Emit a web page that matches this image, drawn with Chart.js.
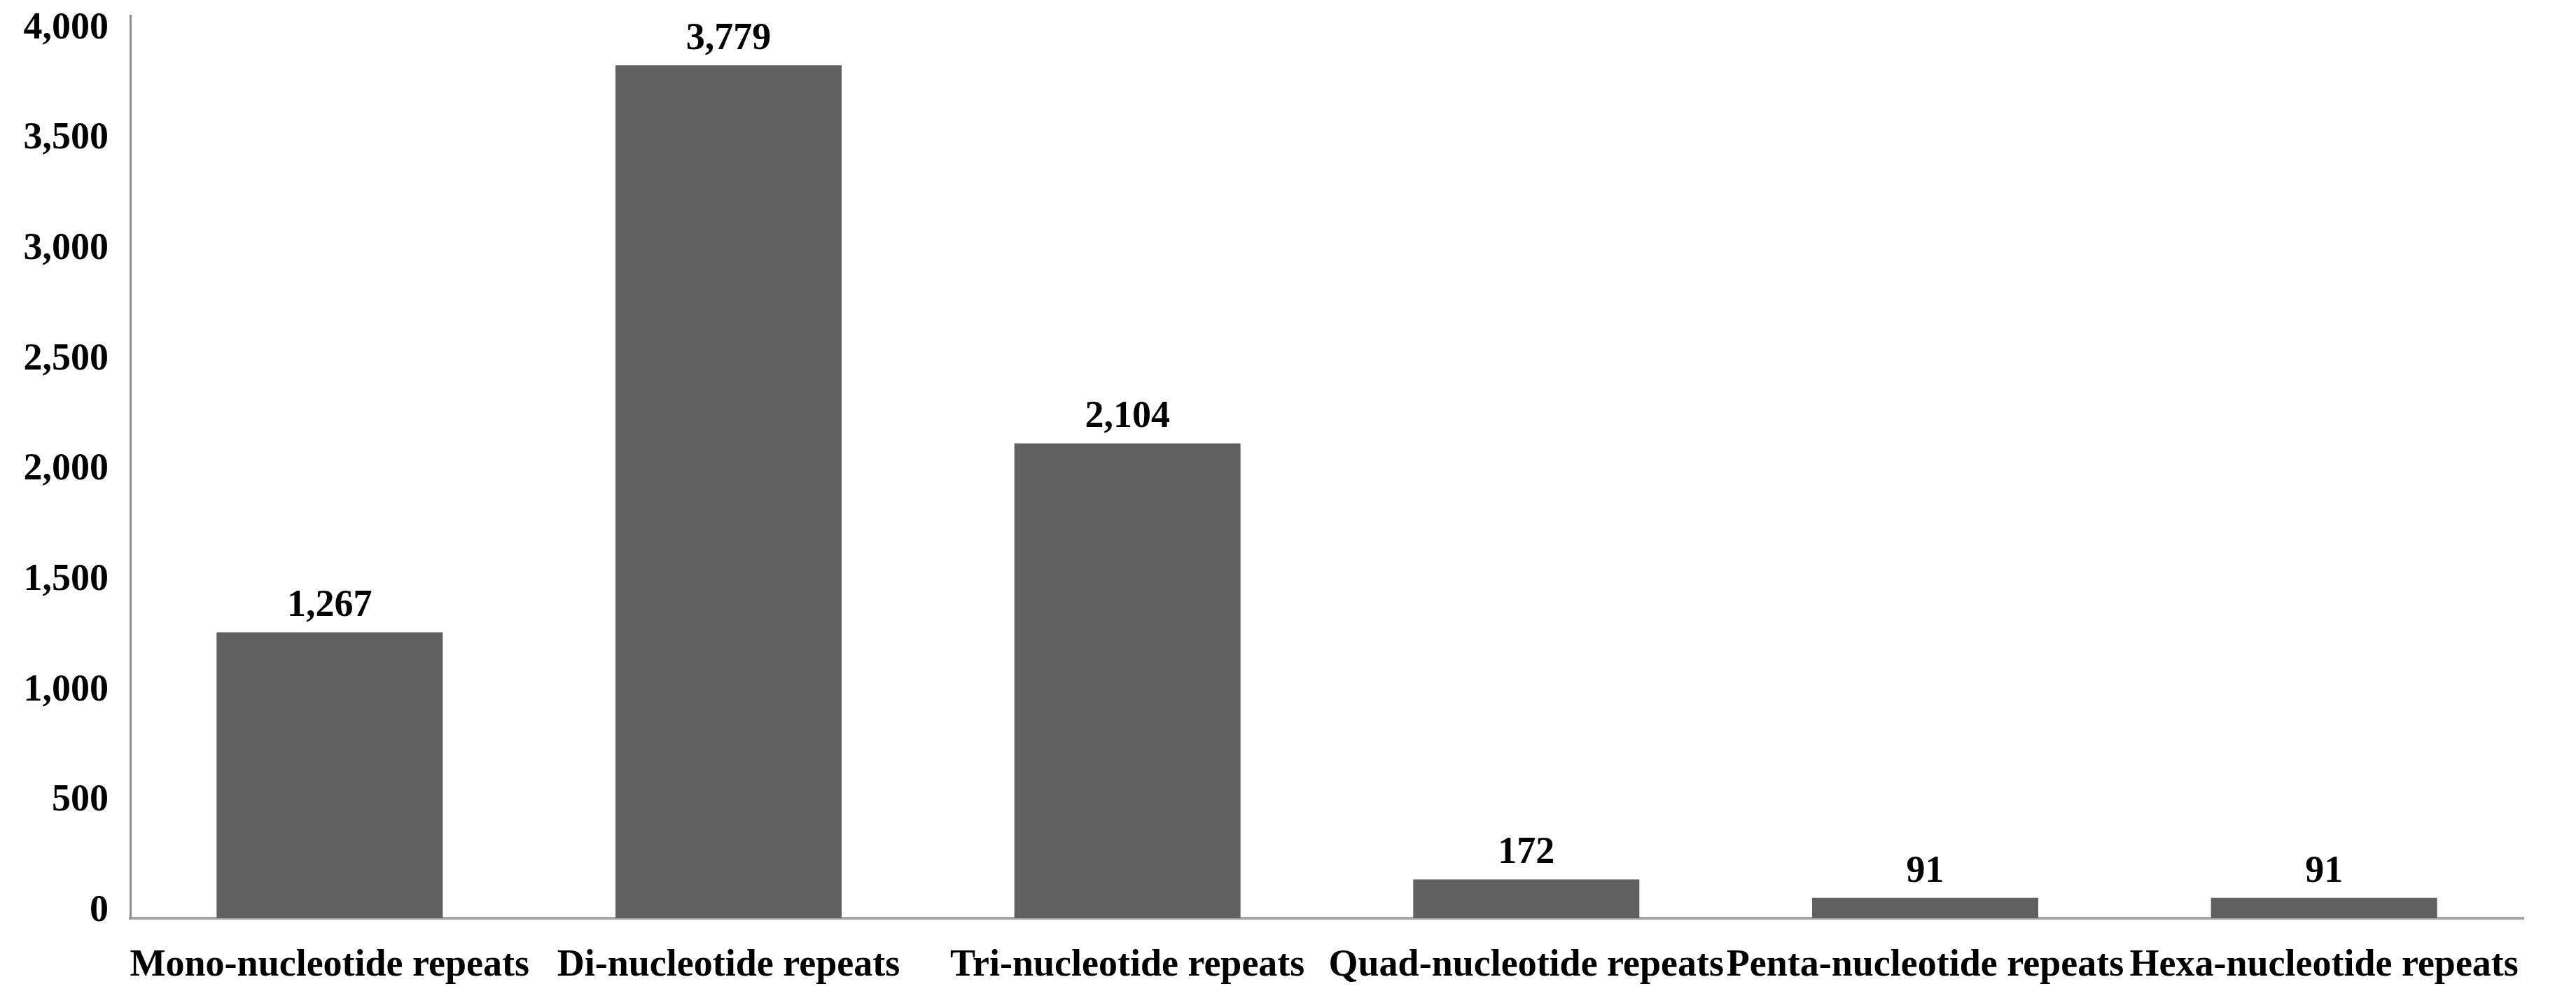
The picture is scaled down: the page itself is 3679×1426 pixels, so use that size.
<!DOCTYPE html>
<html>
<head>
<meta charset="utf-8">
<script src="https://cdn.jsdelivr.net/npm/chart.js@4"></script>
<style>
  html, body { margin: 0; padding: 0; background: #fff; }
  #grafico { display: block; }
</style>
</head>
<body>
<canvas id="grafico" width="3679" height="1426" style="width:3679px;height:1426px"></canvas>
<script>
// Datos del gráfico
const categorias = ['Mono-nucleotide repeats', 'Di-nucleotide repeats', 'Tri-nucleotide repeats',
                    'Quad-nucleotide repeats', 'Penta-nucleotide repeats', 'Hexa-nucleotide repeats'];
const valores = [1267, 3779, 2104, 172, 91, 91];
const ticksY = [0, 500, 1000, 1500, 2000, 2500, 3000, 3500, 4000];

const fuente = { family: '"Liberation Serif", "Times New Roman", serif', size: 54, weight: 'bold' };
const formato = v => Number(v).toLocaleString('en-US');

// Etiquetas encima de cada barra
const etiquetasBarras = {
    id: 'etiquetasBarras',
    afterDatasetsDraw(chart) {
        const ctx = chart.ctx;
        const meta = chart.getDatasetMeta(0);
        ctx.save();
        ctx.font = 'bold 54px "Liberation Serif", "Times New Roman", serif';
        ctx.fillStyle = '#000';
        ctx.textAlign = 'center';
        ctx.textBaseline = 'middle';
        meta.data.forEach((barra, i) => {
            ctx.fillText(formato(valores[i]), barra.x, barra.y - 37);
        });
        ctx.restore();
    }
};

function crearGrafico() {
    const ctx = document.getElementById('grafico').getContext('2d');
    new Chart(ctx, {
        type: 'bar',
        data: {
            labels: categorias,
            datasets: [{
                data: valores,
                backgroundColor: '#606060',
                borderWidth: 0,
                categoryPercentage: 1,
                barPercentage: 0.567,
                yAxisID: 'y'
            }]
        },
        options: {
            responsive: false,
            devicePixelRatio: 1,
            animation: false,
            layout: { padding: { top: 22, right: 75, left: 0, bottom: 0 } },
            plugins: { legend: { display: false }, tooltip: { enabled: false } },
            scales: {
                x: {
                    grid: { display: false, drawTicks: false },
                    border: { display: true, color: '#a6a6a6', width: 4 },
                    ticks: { color: '#000', font: fuente, padding: 36, autoSkip: false, maxRotation: 0, minRotation: 0 },
                    afterFit(s) { s.height = 1426 - 1312; s.paddingLeft = 0; s.paddingRight = 0; }
                },
                // eje de las barras (solo la línea)
                y: {
                    position: 'left',
                    weight: 0,
                    min: 0,
                    max: 4000,
                    grid: { display: false, drawTicks: false },
                    border: { display: true, color: '#8c8c8c', width: 3 },
                    ticks: { display: false },
                    afterFit(s) { s.width = 0; s.paddingTop = 0; s.paddingBottom = 0; }
                },
                // eje de las etiquetas, algo desplazado como en la imagen original
                yEtiquetas: {
                    position: 'left',
                    weight: 1,
                    min: -32,
                    max: 4060,
                    grid: { display: false, drawTicks: false },
                    border: { display: false },
                    afterBuildTicks(s) { s.ticks = ticksY.map(v => ({ value: v })); },
                    ticks: { color: '#000', font: fuente, padding: 31, callback: v => formato(v) },
                    afterFit(s) { s.width = 186; s.paddingTop = 0; s.paddingBottom = 0; }
                }
            }
        },
        plugins: [etiquetasBarras]
    });
}

crearGrafico();
</script>
</body>
</html>
